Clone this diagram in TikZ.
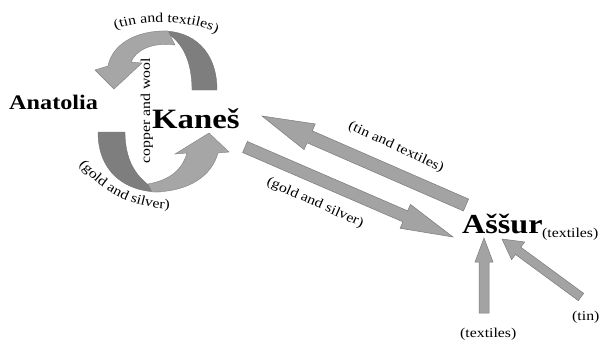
\documentclass[tikz,border=0pt]{standalone}
\usepackage{fontspec}
\setmainfont{Liberation Serif}[FakeStretch=1.17]
\usetikzlibrary{calc,decorations.text}
\definecolor{arrfill}{HTML}{A3A3A3}
\definecolor{arredge}{HTML}{7A7A7A}
\definecolor{cdark}{HTML}{7E7E7E}
\definecolor{clight}{HTML}{A6A6A6}
% #1 style, #2 tail, #3 tip, #4 shaft half width, #5 head half width, #6 head length
\newcommand{\fatarrow}[6][]{%
  \coordinate (fa-b) at ($(#3)!#6!(#2)$);
  \filldraw[#1] ($(#2)!#4!90:(#3)$) -- ($(fa-b)!#4!90:(#3)$) -- ($(fa-b)!#5!90:(#3)$)
    -- (#3) -- ($(fa-b)!#5!-90:(#3)$) -- ($(fa-b)!#4!-90:(#3)$) -- ($(#2)!#4!-90:(#3)$) -- cycle;}
\begin{document}
\begin{tikzpicture}[x=1pt,y=-1pt,
  fat/.style={fill=arrfill, draw=arredge, line width=0.5pt},
  banddark/.style={fill=cdark, draw=black!55, line width=0.4pt},
  bandlight/.style={fill=clight, draw=black!50, line width=0.4pt},
  lbl/.style={inner sep=0pt, font=\fontsize{13.5}{16}\selectfont},
  curvelbl/.style={decorate, decoration={text along path, text align=center, text={|\fontsize{13.5}{16}\selectfont|#1}}}]
\useasboundingbox (0,0) rectangle (599,343);

% place names
\node[inner sep=0pt, anchor=base west, font=\bfseries\fontsize{20.7}{24}\selectfont] (anatolia) at (9,109) {Anatolia};
\node[inner sep=0pt, anchor=base west, font=\bfseries\fontsize{28}{32}\selectfont] (kanes) at (152,128) {Kaneš};
\node[inner sep=0pt, anchor=base west, font=\bfseries\fontsize{27.5}{32}\selectfont] (assur) at (462,233) {Aššur};
\node[lbl, anchor=base west] (assurtex) at (542,237) {(textiles)};

% circular arrow, upper (Kanes -> Anatolia)
\filldraw[banddark] (217,90) .. controls (217,50) and (192,31) .. (163,31)
  .. controls (178,38) and (192,55) .. (192,90) -- cycle;
\filldraw[bandlight] (168,31) .. controls (135,30) and (112,45) .. (108,66)
  -- (95,70) -- (114,89) -- (142,63) -- (131,62)
  .. controls (136,50) and (152,42) .. (175,45) -- cycle;

% circular arrow, lower (Anatolia -> Kanes)
\filldraw[banddark] (98,132) .. controls (98,172) and (125,192) .. (160,192)
  .. controls (140,182) and (125,165) .. (125,132) -- cycle;
\filldraw[bandlight] (152,192) .. controls (190,192) and (212,175) .. (218,153)
  -- (229,152) -- (209,133) -- (175,154) -- (187,153)
  .. controls (182,170) and (170,180) .. (148,184) -- cycle;

\node[lbl, rotate=90] (copper) at (147,111) {copper and wool};
\path[curvelbl={(tin and textiles)}] (114,30) .. controls (140,19) and (190,19) .. (218,34);
\path[curvelbl={(gold and silver)}] (79,164) .. controls (95,185) and (125,208) .. (170,209);

% straight arrows
\coordinate (aT) at (466,205); \coordinate (aP) at (262,116);
\fatarrow[fat]{aT}{aP}{6.5pt}{14pt}{52pt}
\coordinate (bT) at (245,147); \coordinate (bP) at (453,237);
\fatarrow[fat]{bT}{bP}{6pt}{13pt}{52pt}
\coordinate (cT) at (484,313); \coordinate (cP) at (484,238);
\fatarrow[fat]{cT}{cP}{5pt}{9pt}{24pt}
\coordinate (dT) at (581,297); \coordinate (dP) at (502,239);
\fatarrow[fat]{dT}{dP}{4.5pt}{11pt}{20pt}

\node[lbl, rotate=-25] (tinA) at (396,147) {(tin and textiles)};
\node[lbl, rotate=-24] (goldB) at (315,203) {(gold and silver)};
\node[lbl, anchor=base west] (textC) at (460,337) {(textiles)};
\node[lbl, anchor=base west] (tinD) at (572,320) {(tin)};
\end{tikzpicture}
\end{document}
